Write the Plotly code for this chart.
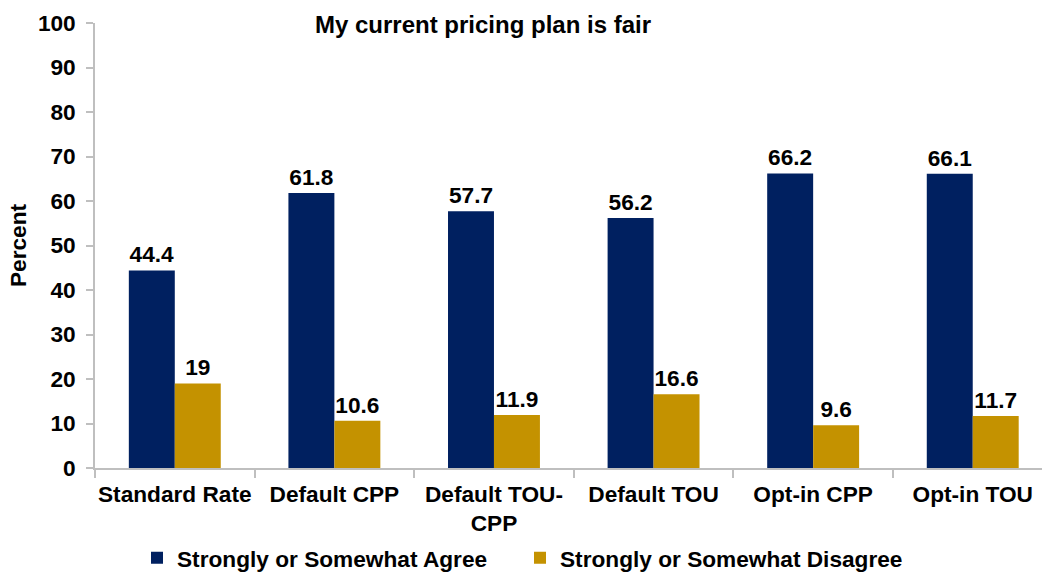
import plotly.graph_objects as go

# Survey results by pricing plan
categories = ["Standard Rate", "Default CPP", "Default TOU-<br>CPP",
              "Default TOU", "Opt-in CPP", "Opt-in TOU"]
agree = [44.4, 61.8, 57.7, 56.2, 66.2, 66.1]
disagree = [19, 10.6, 11.9, 16.6, 9.6, 11.7]
y_ticks = list(range(0, 101, 10))

FONT = "Liberation Sans, Arial, sans-serif"
FS = 22.67
BLUE = "#002060"
GOLD = "#C49200"
AXIS = "#BFBFBF"

fig = go.Figure()
fig.add_trace(go.Bar(
    name="<b>Strongly or Somewhat Agree</b>", x=categories, y=agree,
    marker=dict(color=BLUE, line=dict(width=0)),
    text=[f"<b>{v:g}</b>" for v in agree], textposition="outside",
    textfont=dict(family=FONT, size=FS, color="#000000"),
    cliponaxis=False,
))
fig.add_trace(go.Bar(
    name="<b>Strongly or Somewhat Disagree</b>", x=categories, y=disagree,
    marker=dict(color=GOLD, line=dict(width=0)),
    text=[f"<b>{v:g}</b>" for v in disagree], textposition="outside",
    textfont=dict(family=FONT, size=FS, color="#000000"),
    cliponaxis=False,
))

fig.update_layout(
    width=1042, height=573,
    margin=dict(l=95, r=0, t=23, b=104.5),
    paper_bgcolor="white", plot_bgcolor="white",
    font=dict(family=FONT, size=FS, color="#000000"),
    barmode="group", bargap=0.424, bargroupgap=0,
    title=dict(text="<b>My current pricing plan is fair</b>",
               x=483 / 1042, xanchor="center", y=1 - 25 / 573, yanchor="middle",
               font=dict(family=FONT, size=24, color="#000000")),
    showlegend=True,
    legend=dict(orientation="h", xref="container", yref="container",
                x=137 / 1042, xanchor="left", y=1 - 558 / 573, yanchor="middle",
                font=dict(family=FONT, size=FS, color="#000000"),
                itemwidth=30, entrywidth=338, traceorder="normal",
                tracegroupgap=0),
)
fig.update_xaxes(
    range=[-0.5, 5.434], showline=True, linecolor=AXIS, linewidth=1.5,
    ticks="outside", tickson="boundaries", ticklen=8, tickcolor=AXIS, tickwidth=1.5,
    tickvals=categories, ticktext=[f"<b>{c}</b>" for c in categories],
    tickangle=0,
    tickfont=dict(family=FONT, size=FS, color="#000000"), ticklabelstandoff=5,
    showgrid=False, zeroline=False, automargin=False,
)
fig.update_yaxes(
    range=[0, 100], tickvals=y_ticks, ticktext=[f"<b>{t}</b>" for t in y_ticks],
    showline=True, linecolor=AXIS, linewidth=1.5,
    ticks="outside", ticklen=7, tickcolor=AXIS, tickwidth=1.5,
    tickfont=dict(family=FONT, size=FS, color="#000000"), ticklabelstandoff=6,
    showgrid=False, zeroline=False, automargin=False,
    title=dict(text="<b>Percent</b>", font=dict(family=FONT, size=FS, color="#000000"),
               standoff=5),
)

fig.write_html("out.html")
